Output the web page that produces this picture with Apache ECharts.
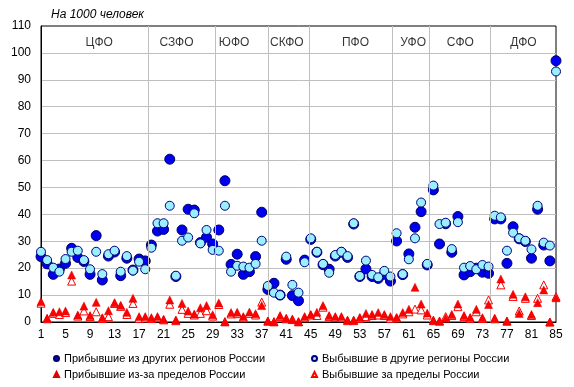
<!DOCTYPE html>
<html><head><meta charset="utf-8">
<script src="https://cdn.jsdelivr.net/npm/echarts@6/dist/echarts.min.js"></script>
<style>html,body{margin:0;padding:0;background:#fff}#c{width:574px;height:387px}</style>
</head><body><div id="c"></div>
<script>
const regionNumbers = ['1','2','3','4','5','6','7','8','9','10','11','12','13','14','15','16','17','18','19','20','21','22','23','24','25','26','27','28','29','30','31','32','33','34','35','36','37','38','39','40','41','42','43','44','45','46','47','48','49','50','51','52','53','54','55','56','57','58','59','60','61','62','63','64','65','66','67','68','69','70','71','72','73','74','75','76','77','78','79','80','81','82','83','84','85'];

const arrivalsOtherRegions = [24.3,21.6,17.7,19.7,21.8,27.4,24.0,22.5,17.7,32.1,15.6,24.5,26.0,17.2,23.7,19.3,23.4,22.7,
  28.6,33.8,34.4,60.5,16.9,34.2,41.9,41.6,29.5,31.5,29.0,
  34.2,52.5,21.4,25.2,17.7,18.7,24.3,40.8,
  12.1,14.4,10.0,23.3,9.8,7.9,23.0,
  30.7,25.9,21.3,19.6,24.5,25.9,24.0,36.4,16.9,19.7,16.9,16.2,17.7,15.2,
  30.1,17.6,25.3,35.2,41.0,21.2,
  49.1,29.0,36.5,25.9,39.2,17.5,18.7,20.0,18.5,18.1,
  38.3,38.3,21.8,35.4,30.9,29.9,23.7,41.9,28.6,22.7,97.1];

const departuresOtherRegions = [26.1,23.0,20.2,18.7,23.4,26.1,26.5,23.0,19.6,26.1,17.8,25.2,26.5,18.7,24.5,19.1,22.4,19.6,
  27.6,36.7,36.7,43.2,17.2,30.2,31.4,40.4,29.2,34.2,26.8,
  26.5,43.2,18.7,20.9,20.6,20.2,21.6,30.2,
  13.4,10.9,10.0,24.3,13.8,10.9,22.2,
  31.1,26.1,21.6,18.3,24.9,26.1,24.5,36.7,17.1,22.8,17.5,16.6,19.0,16.9,
  33.0,17.8,23.3,31.1,44.4,21.6,
  50.7,36.4,36.9,27.1,37.1,20.2,20.8,19.6,21.2,20.6,
  39.5,38.9,26.5,33.2,31.1,30.2,27.0,43.2,29.5,28.4,93.1];

const arrivalsAbroad = [7.6,1.4,3.6,3.8,4.1,17.5,2.6,5.9,2.4,7.3,1.6,4.2,7.2,6.2,3.6,8.8,2.0,2.0,
  1.6,2.0,1.0,8.2,0.7,6.9,4.1,3.0,5.3,6.1,2.7,
  7.1,0.1,3.5,3.6,2.0,3.7,3.1,6.1,
  0.4,0.1,2.4,1.4,1.1,0.1,2.0,
  2.8,3.6,6.1,2.4,2.0,2.0,0.7,0.7,1.7,3.2,2.8,3.5,2.8,2.0,
  1.7,3.5,4.7,12.9,6.7,3.3,
  0.7,0.4,1.4,2.8,6.7,2.4,1.7,4.7,1.6,6.5,
  1.4,16.0,0.4,10.3,3.2,9.4,2.8,7.2,11.9,0.0,9.0];

const departuresAbroad = [7.0,1.2,3.2,2.8,3.5,15.2,2.2,4.1,2.0,3.8,1.3,2.0,6.9,5.8,2.8,6.9,1.4,1.5,
  1.3,1.6,0.8,6.6,0.5,4.7,3.2,2.6,3.2,4.2,2.2,
  6.5,0.1,3.0,3.1,1.6,3.2,2.6,7.4,
  0.3,0.1,2.0,1.2,0.9,0.1,1.6,
  2.6,2.4,5.5,2.0,1.7,1.6,0.5,0.5,1.4,2.0,2.4,2.6,2.4,1.4,
  1.5,3.0,3.8,4.8,4.5,2.6,
  0.5,0.3,2.0,2.4,5.7,2.0,1.4,3.8,1.3,8.2,
  1.2,13.8,0.3,9.5,4.1,8.8,2.4,8.8,13.8,0.0,9.4];

const seriesNames = ['Прибывшие из других регионов России','Выбывшие в другие регионы России','Прибывшие из-за пределов России','Выбывшие за пределы России'];
const districtNames = ['ЦФО','СЗФО','ЮФО','СКФО','ПФО','УФО','СФО','ДФО'];
const districtLabelX = [10.5, 23.1, 32.5, 41.1, 52.3, 61.7, 69.4, 79.7];
const districtLabelY = 103.8;
const districtBoundaries = [18.5, 29.5, 38, 44.8, 58.3, 64.25, 74.2];
const yTitle = 'На 1000 человек';

const FONT = '"Liberation Sans", Arial, sans-serif';
const chart = echarts.init(document.getElementById('c'), null, {renderer: 'canvas'});

const legendCommon = {
  itemWidth: 5, itemHeight: 5, padding: 0, itemGap: 0, selectedMode: false,
  textStyle: {fontSize: 11, color: '#000', fontFamily: FONT}
};

chart.setOption({
  animation: false,
  backgroundColor: '#fff',
  textStyle: {fontFamily: FONT},
  title: {
    text: yTitle, left: 51, top: 9, padding: 0,
    textStyle: {fontSize: 12, fontStyle: 'italic', fontWeight: 'normal', color: '#000', fontFamily: FONT}
  },
  legend: [
    Object.assign({data: [seriesNames[0]], left: 53, top: 353}, legendCommon),
    Object.assign({data: [seriesNames[1]], left: 311, top: 353}, legendCommon),
    Object.assign({data: [seriesNames[2]], left: 53, top: 369}, legendCommon),
    Object.assign({data: [seriesNames[3]], left: 311, top: 369}, legendCommon)
  ],
  grid: {left: 41, right: 18, top: 26, bottom: 65, show: true, borderColor: '#000', borderWidth: 1, backgroundColor: 'transparent'},
  xAxis: [
    {
      type: 'category', data: regionNumbers, boundaryGap: false,
      axisLine: {show: true, lineStyle: {color: '#000', width: 1}},
      axisTick: {show: false},
      axisLabel: {interval: 3, fontSize: 12, color: '#000', margin: 7, fontFamily: FONT},
      splitLine: {show: false}
    },
    {type: 'value', min: 1, max: 85, show: false}
  ],
  yAxis: {
    type: 'value', min: 0, max: 110, interval: 10,
    axisLine: {show: true, lineStyle: {color: '#000', width: 1}},
    axisTick: {show: false},
    axisLabel: {fontSize: 12, color: '#000', margin: 10, fontFamily: FONT},
    splitLine: {show: true, showMinLine: false, showMaxLine: false, lineStyle: {color: '#BFBFBF', width: 1}}
  },
  series: [
    {
      name: 'districts', type: 'scatter', xAxisIndex: 1, silent: true, z: 1,
      symbol: 'circle', symbolSize: 1, itemStyle: {color: 'rgba(0,0,0,0)'},
      data: districtNames.map((n, i) => ({name: n, value: [districtLabelX[i], districtLabelY]})),
      label: {show: true, position: 'inside', formatter: '{b}', color: '#000', fontSize: 12, fontFamily: FONT},
      markLine: {
        silent: true, symbol: 'none', label: {show: false},
        lineStyle: {color: '#BFBFBF', width: 1, type: 'solid'},
        data: districtBoundaries.map(v => ({xAxis: v}))
      }
    },
    {
      name: seriesNames[0], type: 'scatter', data: arrivalsOtherRegions, z: 3,
      symbol: 'circle', symbolSize: 10,
      itemStyle: {color: '#0000F0', borderColor: '#000066', borderWidth: 1, opacity: 1}
    },
    {
      name: seriesNames[1], type: 'scatter', data: departuresOtherRegions, z: 4,
      symbol: 'circle', symbolSize: 9,
      itemStyle: {color: '#99EEFF', borderColor: '#000080', borderWidth: 1, opacity: 1}
    },
    {
      name: seriesNames[2], type: 'scatter', data: arrivalsAbroad, z: 6,
      symbol: 'triangle', symbolSize: 8,
      itemStyle: {color: '#FF0000', borderColor: '#DD0000', borderWidth: 0.5, opacity: 1}
    },
    {
      name: seriesNames[3], type: 'scatter', data: departuresAbroad, z: 5,
      symbol: 'triangle', symbolSize: 8,
      itemStyle: {color: '#FFFFFF', borderColor: '#FF0000', borderWidth: 1, opacity: 1}
    }
  ]
});
</script>
</body></html>
